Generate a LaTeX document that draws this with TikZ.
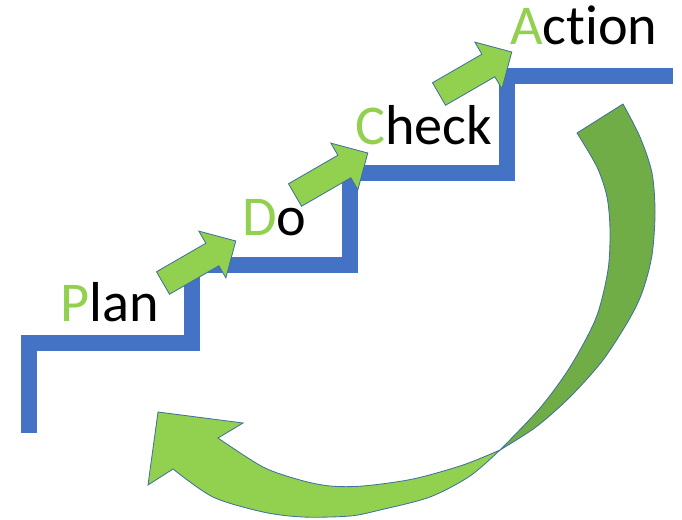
\documentclass[tikz,border=0pt]{standalone}
\usepackage{fontspec}
\setmainfont{Carlito}[Ligatures=NoCommon]
\usepackage{tikz}
\definecolor{stairblue}{HTML}{4472C4}
\definecolor{leaf}{HTML}{92D050}
\definecolor{moss}{HTML}{70AD47}
\definecolor{rim}{HTML}{41719C}
\tikzstyle{stair}=[draw=stairblue,line width=0.41cm,miter limit=10]
\tikzstyle{blk}=[fill=leaf,draw=rim,line width=0.6pt,line join=miter]
\tikzstyle{word}=[inner sep=0pt,anchor=base west,font=\fontsize{40}{48}\selectfont]

\begin{document}
\begin{tikzpicture}[x=0.025cm,y=-0.025cm]
        \useasboundingbox (0,0) rectangle (682,519);
        % the stairs
        \draw[stair] (29,433) -- (29,343) -- (192,343) -- (192,265)
            -- (350,265) -- (350,173) -- (507,173) -- (507,76) -- (673,76);
        % step arrows
        \foreach \x/\y in {163/283, 295/195, 439/94}
            \draw[blk,shift={(\x,\y)},rotate=30]
                (0,-13) -- (57,-13) -- (57,-27) -- (84,0) -- (57,27) -- (57,13) -- (0,13) -- cycle;
        % labels
        \node[word] (P) at (60,321) {{\color{leaf}P}lan};
        \node[word] (D) at (242,235) {{\color{leaf}D}o};
        \node[word] (C) at (355,144) {{\color{leaf}C}heck};
        \node[word] (A) at (510,45) {{\color{leaf}A}ction};
        % back of the curved arrow
        \draw[blk,fill=moss] (577,133) -- (623,104)
            -- plot[smooth] coordinates {(623,104) (640,137) (652,173) (655,213) (652,255)
                (643,290) (630,318) (603,360) (570,397) (536,427) (500,450)}
            -- plot[smooth] coordinates {(500,450) (540,408) (570,367) (596,318) (608,270)
                (610,230) (607,197) (597,167) (577,133)}
            -- cycle;
        % front of the curved arrow
        \draw[blk] plot[smooth] coordinates {(500,450) (463,465) (413,479) (363,486)
                (330,486) (300,480) (263,467) (218,438)}
            -- (243,423) -- (158,412) -- (148,485) -- (173,469)
            -- plot[smooth] coordinates {(173,469) (213,497) (263,512) (303,517) (350,516)
                (380,510) (430,497) (470,476) (500,450)}
            -- cycle;
    \end{tikzpicture}
\end{document}
